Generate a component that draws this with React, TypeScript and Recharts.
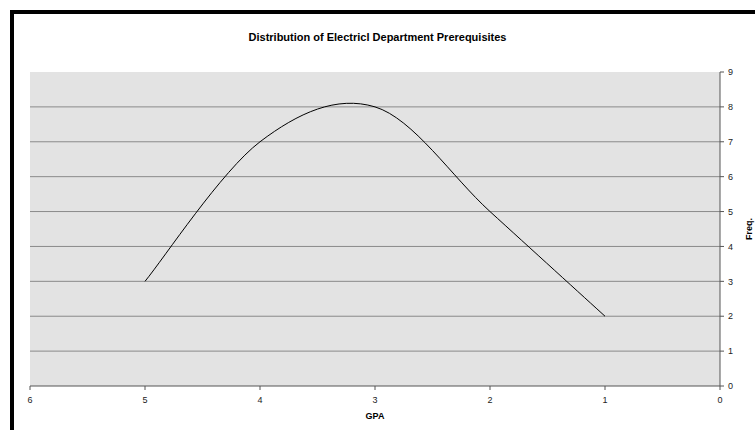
import React from 'react';
import {
  LineChart,
  Line,
  XAxis,
  YAxis,
  ReferenceLine,
  ReferenceArea,
  Label,
} from 'recharts';

const gpa = [5, 4, 3, 2, 1];
const freq = [3, 7, 8, 5, 2];
const xTicks = [0, 1, 2, 3, 4, 5, 6];
const yTicks = [0, 1, 2, 3, 4, 5, 6, 7, 8, 9];
const gridValues = [1, 2, 3, 4, 5, 6, 7, 8];

const chartData = gpa.map((g, i) => ({ gpa: g, freq: freq[i] }));

const FONT = '"Liberation Sans", Arial, sans-serif';

// Excel-style smoothed line (Catmull-Rom through the points)
const smoothCurve = (context: any) => {
  let pts: number[][] = [];
  return {
    areaStart() {},
    areaEnd() {},
    lineStart() {
      pts = [];
    },
    point(x: number, y: number) {
      pts.push([+x, +y]);
    },
    lineEnd() {
      if (!pts.length) return;
      context.moveTo(pts[0][0], pts[0][1]);
      for (let i = 0; i < pts.length - 1; i++) {
        const p0 = pts[Math.max(i - 1, 0)];
        const p1 = pts[i];
        const p2 = pts[i + 1];
        const p3 = pts[Math.min(i + 2, pts.length - 1)];
        context.bezierCurveTo(
          p1[0] + (p2[0] - p0[0]) / 6,
          p1[1] + (p2[1] - p0[1]) / 6,
          p2[0] - (p3[0] - p1[0]) / 6,
          p2[1] - (p3[1] - p1[1]) / 6,
          p2[0],
          p2[1]
        );
      }
    },
  };
};

export default function App() {
  return (
    <div
      style={{
        position: 'absolute',
        left: 0,
        top: 0,
        width: 755,
        height: 430,
        overflow: 'hidden',
        background: '#fff',
        fontFamily: FONT,
      }}
    >
      <div
        style={{
          position: 'absolute',
          left: 10,
          top: 10,
          width: 800,
          height: 500,
          border: '4px solid #000',
        }}
      />
      <div
        style={{
          position: 'absolute',
          top: 31,
          left: 0,
          width: 755,
          textAlign: 'center',
          fontSize: 11,
          fontWeight: 'bold',
          color: '#000',
        }}
      >
        Distribution of Electricl Department Prerequisites
      </div>
      <div style={{ position: 'absolute', left: 0, top: 0 }}>
        <LineChart
          width={755}
          height={430}
          data={chartData}
          margin={{ top: 72, right: 0, left: 30, bottom: 0 }}
        >
          <XAxis
            dataKey="gpa"
            type="number"
            domain={[0, 6]}
            ticks={xTicks}
            reversed
            interval={0}
            height={44}
            stroke="#555"
            tickSize={4}
            tickMargin={7}
            tick={{ fontSize: 9, fill: '#222', fontFamily: FONT }}
          >
            <Label
              value="GPA"
              position="insideBottom"
              offset={11}
              style={{ fontSize: 9, fontWeight: 'bold', fill: '#000', fontFamily: FONT }}
            />
          </XAxis>
          <YAxis
            orientation="right"
            type="number"
            domain={[0, 9]}
            ticks={yTicks}
            interval={0}
            width={35}
            stroke="#555"
            tickSize={4}
            tickMargin={4}
            tick={{ fontSize: 9, fill: '#222', fontFamily: FONT, textAnchor: 'start' }}
          >
            <Label
              value="Freq."
              angle={-90}
              position="insideRight"
              offset={6}
              style={{ fontSize: 9, fontWeight: 'bold', fill: '#000', fontFamily: FONT, textAnchor: 'middle' }}
            />
          </YAxis>
          <ReferenceArea x1={0} x2={6} y1={0} y2={9} fill="#e3e3e3" fillOpacity={1} stroke="none" />
          {gridValues.map((v) => (
            <ReferenceLine key={v} y={v} stroke="#8a8a8a" strokeWidth={1} />
          ))}
          <Line
            type={smoothCurve as any}
            dataKey="freq"
            stroke="#000"
            strokeWidth={1}
            dot={false}
            isAnimationActive={false}
          />
        </LineChart>
      </div>
    </div>
  );
}
